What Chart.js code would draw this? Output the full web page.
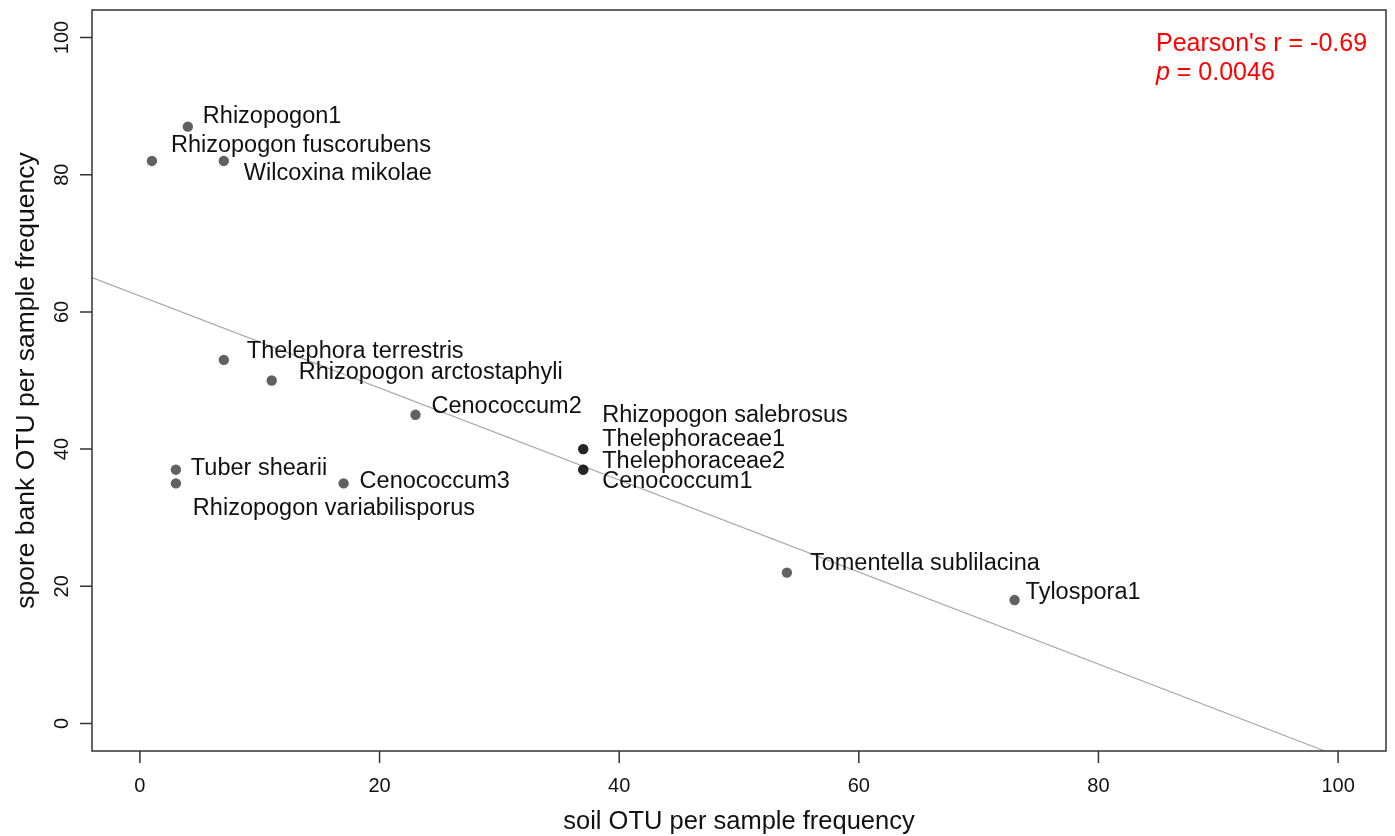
<!DOCTYPE html>
<html lang="en">
<head>
<meta charset="UTF-8">
<title>Spore bank vs soil OTU frequency</title>
<script src="https://cdn.jsdelivr.net/npm/chart.js"></script>
<style>
  html, body { margin: 0; padding: 0; background: #fff; }
</style>
</head>
<body>
<canvas id="otuChart" width="1395" height="836"></canvas>
<script>
// OTU names, soil frequency (x) and spore bank frequency (y)
const otuNames = [
  'Rhizopogon1', 'Rhizopogon fuscorubens', 'Wilcoxina mikolae',
  'Thelephora terrestris', 'Rhizopogon arctostaphyli', 'Cenococcum2',
  'Rhizopogon salebrosus', 'Thelephoraceae1', 'Thelephoraceae2', 'Cenococcum1',
  'Tuber shearii', 'Rhizopogon variabilisporus', 'Cenococcum3',
  'Tomentella sublilacina', 'Tylospora1'
];
const soilFreq  = [4, 1, 7, 7, 11, 23, 37, 37, 37, 37, 3, 3, 17, 54, 73];
const sporeFreq = [87, 82, 82, 53, 50, 45, 40, 40, 37, 37, 37, 35, 35, 22, 18];

// label nudges in px, so stacked names don't collide
const labelDx = [15, 19, 20, 23, 27, 16, 19, 19, 19, 19, 15, 17, 16, 23, 11];
const labelDy = [-10, -15, 13, -8, -8, -8, -34, -10, -8, 12, -1, 25, -2, -9, -8];

const xTicks = [0, 20, 40, 60, 80, 100];
const yTicks = [0, 20, 40, 60, 80, 100];

// fitted regression line, end points
const fitX = [-4, 98.9];
const fitY = [65.0, -4];

const pearsonR = '-0.69';
const pValue = '0.0046';

const FONT = '"Liberation Sans", Arial, Helvetica, sans-serif';

const pointLabels = {
  id: 'pointLabels',
  afterDatasetsDraw(chart) {
    const ctx = chart.ctx;
    const meta = chart.getDatasetMeta(0);
    ctx.save();
    ctx.fillStyle = '#111';
    ctx.font = '23.5px ' + FONT;
    ctx.textAlign = 'left';
    ctx.textBaseline = 'middle';
    meta.data.forEach((pt, i) => {
      ctx.fillText(otuNames[i], pt.x + labelDx[i], pt.y + labelDy[i]);
    });
    ctx.restore();
  }
};

// box, outward ticks and rotated y labels like base R graphics
const rAxes = {
  id: 'rAxes',
  afterDraw(chart) {
    const { ctx, chartArea: a, scales: { x, y } } = chart;
    ctx.save();
    ctx.strokeStyle = '#333';
    ctx.lineWidth = 1.5;
    ctx.strokeRect(a.left, a.top, a.right - a.left, a.bottom - a.top);

    ctx.beginPath();
    xTicks.forEach(v => {
      const px = x.getPixelForValue(v);
      ctx.moveTo(px, a.bottom);
      ctx.lineTo(px, a.bottom + 12);
    });
    yTicks.forEach(v => {
      const py = y.getPixelForValue(v);
      ctx.moveTo(a.left, py);
      ctx.lineTo(a.left - 12, py);
    });
    ctx.stroke();

    ctx.fillStyle = '#111';
    ctx.font = '20px ' + FONT;
    ctx.textAlign = 'center';
    ctx.textBaseline = 'middle';
    xTicks.forEach(v => ctx.fillText(String(v), x.getPixelForValue(v), a.bottom + 35));
    yTicks.forEach(v => {
      ctx.save();
      ctx.translate(a.left - 30, y.getPixelForValue(v));
      ctx.rotate(-Math.PI / 2);
      ctx.fillText(String(v), 0, 0);
      ctx.restore();
    });

    ctx.font = '25.5px ' + FONT;
    ctx.fillText('soil OTU per sample frequency', (a.left + a.right) / 2, a.bottom + 71);
    ctx.save();
    ctx.translate(27, (a.top + a.bottom) / 2);
    ctx.rotate(-Math.PI / 2);
    ctx.font = '26.5px ' + FONT;
    ctx.fillText('spore bank OTU per sample frequency', 0, 0);
    ctx.restore();

    // correlation note, top right
    const sx = x.getPixelForValue(84.8);
    const sy = y.getPixelForValue(99.0);
    ctx.fillStyle = '#ff0000';
    ctx.textAlign = 'left';
    ctx.font = '25px ' + FONT;
    ctx.fillText("Pearson's r = " + pearsonR, sx, sy);
    ctx.font = 'italic 25px ' + FONT;
    ctx.fillText('p', sx, sy + 29);
    const pw = ctx.measureText('p').width;
    ctx.font = '25px ' + FONT;
    ctx.fillText(' = ' + pValue, sx + pw, sy + 29);
    ctx.restore();
  }
};

const ctx = document.getElementById('otuChart').getContext('2d');
new Chart(ctx, {
  type: 'scatter',
  data: {
    datasets: [{
      label: 'OTU',
      data: soilFreq.map((v, i) => ({ x: v, y: sporeFreq[i] })),
      backgroundColor: 'rgba(0,0,0,0.62)',
      borderWidth: 0,
      pointRadius: 5.2,
      pointHoverRadius: 5.2,
      order: 0
    }, {
      label: 'fit',
      type: 'line',
      data: fitX.map((v, i) => ({ x: v, y: fitY[i] })),
      borderColor: '#a8a8a8',
      borderWidth: 1.2,
      pointRadius: 0,
      fill: false,
      order: 1
    }]
  },
  options: {
    responsive: false,
    animation: false,
    layout: { padding: { left: 92, top: 10, right: 9, bottom: 85 } },
    scales: {
      x: { type: 'linear', min: -4, max: 104, display: false },
      y: { type: 'linear', min: -4, max: 104, display: false }
    },
    plugins: {
      legend: { display: false },
      tooltip: { enabled: false }
    }
  },
  plugins: [pointLabels, rAxes]
});
</script>
</body>
</html>
